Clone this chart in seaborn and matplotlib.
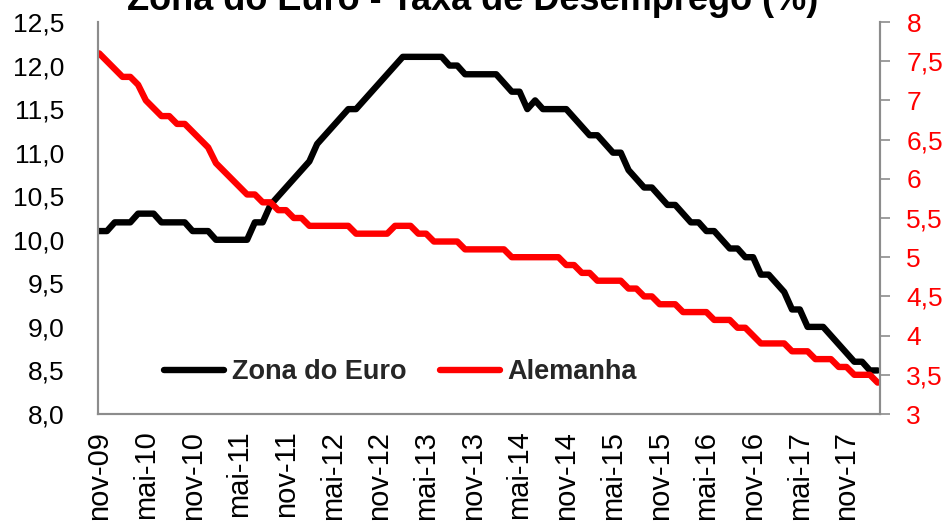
import matplotlib
matplotlib.use("Agg")
import matplotlib.pyplot as plt
import numpy as np
import pandas as pd
import seaborn as sns

# ---------------- data ----------------
start_month = "2009-11-01"
zona_euro = [
    10.1, 10.1, 10.2, 10.2, 10.2, 10.3, 10.3, 10.3, 10.2, 10.2,
    10.2, 10.2, 10.1, 10.1, 10.1, 10.0, 10.0, 10.0, 10.0, 10.0,
    10.2, 10.2, 10.4, 10.5, 10.6, 10.7, 10.8, 10.9, 11.1, 11.2,
    11.3, 11.4, 11.5, 11.5, 11.6, 11.7, 11.8, 11.9, 12.0, 12.1,
    12.1, 12.1, 12.1, 12.1, 12.1, 12.0, 12.0, 11.9, 11.9, 11.9,
    11.9, 11.9, 11.8, 11.7, 11.7, 11.5, 11.6, 11.5, 11.5, 11.5,
    11.5, 11.4, 11.3, 11.2, 11.2, 11.1, 11.0, 11.0, 10.8, 10.7,
    10.6, 10.6, 10.5, 10.4, 10.4, 10.3, 10.2, 10.2, 10.1, 10.1,
    10.0, 9.9, 9.9, 9.8, 9.8, 9.6, 9.6, 9.5, 9.4, 9.2,
    9.2, 9.0, 9.0, 9.0, 8.9, 8.8, 8.7, 8.6, 8.6, 8.5,
    8.5,
]
alemanha = [
    7.6, 7.5, 7.4, 7.3, 7.3, 7.2, 7.0, 6.9, 6.8, 6.8,
    6.7, 6.7, 6.6, 6.5, 6.4, 6.2, 6.1, 6.0, 5.9, 5.8,
    5.8, 5.7, 5.7, 5.6, 5.6, 5.5, 5.5, 5.4, 5.4, 5.4,
    5.4, 5.4, 5.4, 5.3, 5.3, 5.3, 5.3, 5.3, 5.4, 5.4,
    5.4, 5.3, 5.3, 5.2, 5.2, 5.2, 5.2, 5.1, 5.1, 5.1,
    5.1, 5.1, 5.1, 5.0, 5.0, 5.0, 5.0, 5.0, 5.0, 5.0,
    4.9, 4.9, 4.8, 4.8, 4.7, 4.7, 4.7, 4.7, 4.6, 4.6,
    4.5, 4.5, 4.4, 4.4, 4.4, 4.3, 4.3, 4.3, 4.3, 4.2,
    4.2, 4.2, 4.1, 4.1, 4.0, 3.9, 3.9, 3.9, 3.9, 3.8,
    3.8, 3.8, 3.7, 3.7, 3.7, 3.6, 3.6, 3.5, 3.5, 3.5,
    3.4,
]
tick_labels = ["nov-09", "mai-10", "nov-10", "mai-11", "nov-11", "mai-12",
               "nov-12", "mai-13", "nov-13", "mai-14", "nov-14", "mai-15",
               "nov-15", "mai-16", "nov-16", "mai-17", "nov-17"]
left_ticks = [8.0, 8.5, 9.0, 9.5, 10.0, 10.5, 11.0, 11.5, 12.0, 12.5]
right_ticks = [3, 3.5, 4, 4.5, 5, 5.5, 6, 6.5, 7, 7.5, 8]
title = "Zona do Euro - Taxa de Desemprego (%)"
series_names = ["Zona do Euro", "Alemanha"]

# ---------------- frame ----------------
dates = pd.date_range(start_month, periods=len(zona_euro), freq="MS")
df = pd.DataFrame({
    "idx": np.arange(len(zona_euro)),
    "date": dates,
    "zona": zona_euro,
    "alem": alemanha,
})

sns.set_theme(style="white")
FONT = ["Liberation Sans", "DejaVu Sans"]
plt.rcParams["font.family"] = FONT

fig = plt.figure(figsize=(9.45, 5.26), dpi=100)
ax = fig.add_axes([98 / 945, 1 - 414 / 526, (880 - 98) / 945, (414 - 22) / 526])
ax2 = ax.twinx()

sns.lineplot(data=df, x="idx", y="zona", ax=ax, color="#000000", lw=4.6,
             label=series_names[0], legend=False)
sns.lineplot(data=df, x="idx", y="alem", ax=ax2, color="#FF0000", lw=4.6,
             label=series_names[1], legend=False)

spine_c = "#8C8C8C"
ax.set_xlim(-0.15, 100.3)
ax.set_ylim(8.0, 12.5)
ax2.set_ylim(3, 8)

ax.set_yticks(left_ticks)
ax.set_yticklabels([f"{v:.1f}".replace(".", ",") for v in left_ticks])
ax2.set_yticks(right_ticks)
ax2.set_yticklabels([(f"{v:g}").replace(".", ",") for v in right_ticks])

pos = [i * 6 for i in range(len(tick_labels))]
ax.set_xticks(pos)
ax.set_xticklabels(tick_labels, rotation=90)

ax.set_xlabel("")
ax.set_ylabel("")
ax2.set_ylabel("")

ax.tick_params(axis="y", length=0, pad=24, labelsize=19, labelcolor="#000000")
ax.tick_params(axis="x", length=0, pad=12, labelsize=21, labelcolor="#000000")
ax2.tick_params(axis="y", length=7, width=1.2, color=spine_c, pad=12,
                labelsize=19, labelcolor="#FF0000", direction="out")

for a in (ax, ax2):
    a.spines["top"].set_visible(False)
    for s in ("left", "right", "bottom"):
        a.spines[s].set_color(spine_c)
        a.spines[s].set_linewidth(1.5)
    a.grid(False)

# legend combining both axes
h1, l1 = ax.get_legend_handles_labels()
h2, l2 = ax2.get_legend_handles_labels()
leg = ax.legend(h1 + h2, l1 + l2, loc="center left",
                bbox_to_anchor=(0.085, 0.107), ncol=2, frameon=False,
                handlelength=2.2, handletextpad=0.28, columnspacing=1.25,
                borderpad=0, borderaxespad=0,
                prop={"family": FONT, "weight": "bold", "size": 19.5})

fig.text(0.5, 1 - 10 / 526, title, ha="center", va="baseline",
         fontsize=26, fontweight="bold", color="#000000")

fig.savefig("out.png", dpi=100, facecolor="white")
